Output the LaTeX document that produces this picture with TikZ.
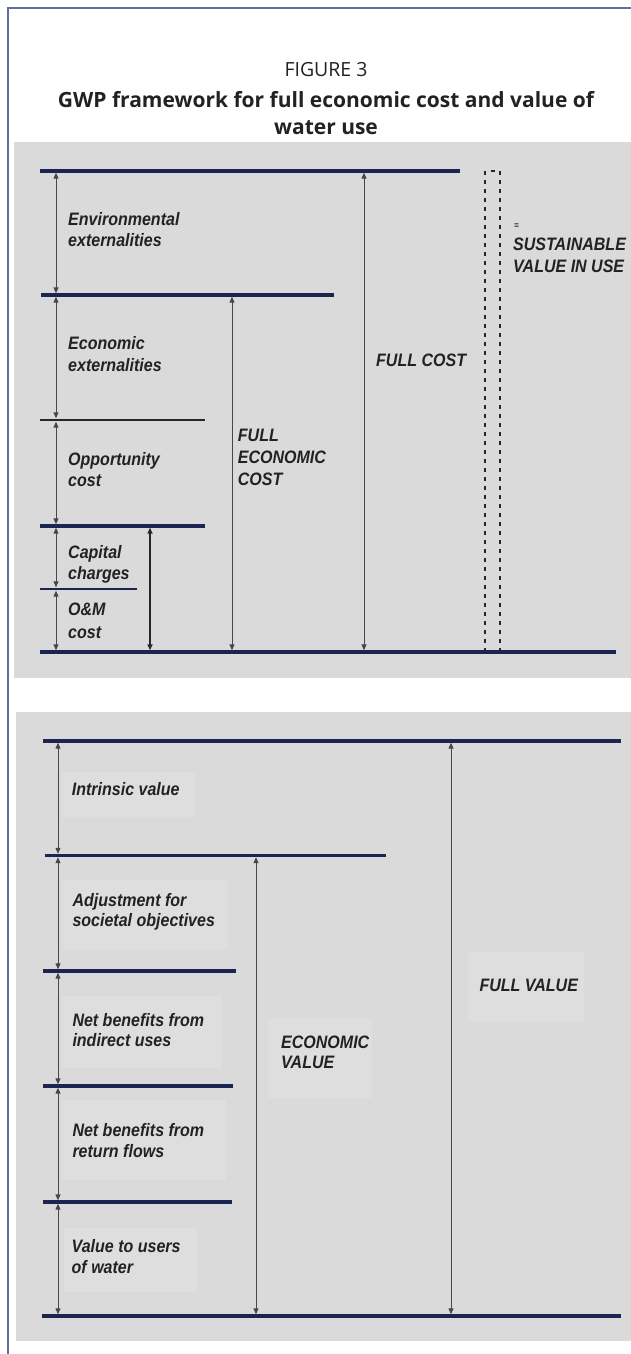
\documentclass[tikz,border=0pt]{standalone}
\usepackage{fontspec}
\setmainfont{Liberation Sans}
\newfontfamily\labfont{Liberation Sans}[FakeStretch=0.89]
\newfontfamily\titlefont{Open Sans}
\usetikzlibrary{arrows.meta}
\definecolor{panel}{HTML}{DADADA}
\definecolor{boxfill}{HTML}{DEDEDE}
\definecolor{navy}{HTML}{1C2550}
\definecolor{framec}{HTML}{6070A3}
\definecolor{arr}{HTML}{474747}
\definecolor{txt}{HTML}{222222}
\begin{document}
\begin{tikzpicture}[x=1pt,y=-1pt,
  level/.style={draw=navy,line width=3.4pt},
  thinlevel/.style={draw=black!85,line width=1.4pt},
  midlevel/.style={draw=navy,line width=1.8pt},
  dim/.style={draw=arr,line width=1pt,
    {Triangle[length=6pt,width=5pt]}-{Triangle[length=6pt,width=5pt]},
    shorten >=1.7pt,shorten <=1.7pt},
  boldim/.style={dim,draw=black!85,line width=1.5pt},
  lab/.style={inner sep=0pt,anchor=base west,text=txt,
    font=\labfont\bfseries\itshape\fontsize{18}{21}\selectfont},
  dashline/.style={draw=black!85,line width=1.3pt,dash pattern=on 4pt off 5pt},
  lbox/.style={fill=boxfill,draw=none}
]
\useasboundingbox (0,0) rectangle (631,1354);
% frame
\coordinate (f1) at (8,1354);
\coordinate (f2) at (8,8);
\coordinate (f3) at (631,8);
\draw[framec,line width=2.2pt] (f1) -- (f2) -- (f3);
% title
\node[font=\titlefont\fontsize{19.5}{24}\selectfont,anchor=base,text=txt] (t0) at (326,76) {FIGURE 3};
\node[font=\titlefont\bfseries\fontsize{21}{26}\selectfont,anchor=base,text=txt] (t1) at (326,107) {GWP framework for full economic cost and value of};
\node[font=\titlefont\bfseries\fontsize{21}{26}\selectfont,anchor=base,text=txt] (t2) at (326,134) {water use};

% ---------------- top panel
\fill[panel] (14,142) rectangle (631,678);
\coordinate (L1a) at (40,171);  \coordinate (L1b) at (460,171);
\coordinate (L2a) at (41,295);  \coordinate (L2b) at (334,295);
\coordinate (L3a) at (40,420);  \coordinate (L3b) at (205,420);
\coordinate (L4a) at (40,526);  \coordinate (L4b) at (205,526);
\coordinate (L5a) at (40,589);  \coordinate (L5b) at (137,589);
\coordinate (L6a) at (40,652);  \coordinate (L6b) at (616,652);
% dashed sustainable column
\coordinate (d1t) at (485,171); \coordinate (d1b) at (485,652);
\coordinate (d2t) at (500,171); \coordinate (d2b) at (500,652);
\coordinate (d3a) at (491,171); \coordinate (d3b) at (495,171);
\draw[dashline] (d1t) -- (d1b);
\draw[dashline] (d2t) -- (d2b);
\draw[draw=black!85,line width=1.3pt] (d3a) -- (d3b);
\draw[level] (L1a) -- (L1b);
\draw[level] (L2a) -- (L2b);
\draw[thinlevel] (L3a) -- (L3b);
\draw[level] (L4a) -- (L4b);
\draw[midlevel] (L5a) -- (L5b);
\draw[level] (L6a) -- (L6b);
% arrow anchor points
\coordinate (a1) at (56,171); \coordinate (a2) at (56,295); \coordinate (a3) at (56,420);
\coordinate (a4) at (56,526); \coordinate (a5) at (56,589); \coordinate (a6) at (56,652);
\draw[dim] (a1) -- (a2);
\draw[dim] (a2) -- (a3);
\draw[dim] (a3) -- (a4);
\draw[dim] (a4) -- (a5);
\draw[dim] (a5) -- (a6);
\coordinate (c1) at (150,526); \coordinate (c2) at (150,652);
\draw[boldim] (c1) -- (c2);
\coordinate (e1) at (232,295); \coordinate (e2) at (232,652);
\draw[dim] (e1) -- (e2);
\coordinate (g1) at (364,171); \coordinate (g2) at (364,652);
\draw[dim] (g1) -- (g2);
% labels top
\node[lab] (env1) at (68,225.7) {Environmental};
\node[lab] (env2) at (68,246.7) {externalities};
\node[lab] (eco1) at (68,349.3) {Economic};
\node[lab] (eco2) at (68,371) {externalities};
\node[lab] (opp1) at (68,465) {Opportunity};
\node[lab] (opp2) at (68,486) {cost};
\node[lab] (cap1) at (68,558.3) {Capital};
\node[lab] (cap2) at (68,579) {charges};
\node[lab] (om1) at (68,615) {O\&M};
\node[lab] (om2) at (68,638) {cost};
\node[lab] (fec1) at (237.7,441.7) {FULL};
\node[lab] (fec2) at (237.7,463.3) {ECONOMIC};
\node[lab] (fec3) at (237.7,485) {COST};
\node[lab] (fc) at (376,366.7) {FULL COST};
\node[lab,font=\labfont\bfseries\itshape\fontsize{9}{10}\selectfont] (eq) at (514,228) {=};
\node[lab] (sv1) at (513,250.7) {SUSTAINABLE};
\node[lab] (sv2) at (513,272.7) {VALUE IN USE};

% ---------------- bottom panel
\fill[panel] (16,712) rectangle (631,1341);
\fill[lbox] (62,772) rectangle (195,817);
\fill[lbox] (62,880) rectangle (228,950);
\fill[lbox] (62,996) rectangle (222,1068);
\fill[lbox] (62,1100) rectangle (226,1180);
\fill[lbox] (64,1228) rectangle (197,1292);
\fill[lbox] (268,1018) rectangle (372,1098);
\fill[lbox] (468,952) rectangle (584,1022);
\coordinate (B1a) at (43,741);   \coordinate (B1b) at (621,741);
\coordinate (B2a) at (45,855.5); \coordinate (B2b) at (386,855.5);
\coordinate (B3a) at (43,971);   \coordinate (B3b) at (236,971);
\coordinate (B4a) at (43,1086);  \coordinate (B4b) at (233,1086);
\coordinate (B5a) at (43,1202);  \coordinate (B5b) at (232,1202);
\coordinate (B6a) at (42,1316);  \coordinate (B6b) at (621,1316);
\draw[level] (B1a) -- (B1b);
\draw[level] (B2a) -- (B2b);
\draw[level] (B3a) -- (B3b);
\draw[level] (B4a) -- (B4b);
\draw[level] (B5a) -- (B5b);
\draw[level] (B6a) -- (B6b);
\coordinate (b1) at (58,741); \coordinate (b2) at (58,855.5); \coordinate (b3) at (58,971);
\coordinate (b4) at (58,1086); \coordinate (b5) at (58,1202); \coordinate (b6) at (58,1316);
\draw[dim] (b1) -- (b2);
\draw[dim] (b2) -- (b3);
\draw[dim] (b3) -- (b4);
\draw[dim] (b4) -- (b5);
\draw[dim] (b5) -- (b6);
\coordinate (ev1) at (256,855.5); \coordinate (ev2) at (256,1316);
\draw[dim] (ev1) -- (ev2);
\coordinate (fv1) at (451,741); \coordinate (fv2) at (451,1316);
\draw[dim] (fv1) -- (fv2);
% labels bottom
\node[lab] (iv) at (71.7,795.7) {Intrinsic value};
\node[lab] (adj1) at (72.3,906) {Adjustment for};
\node[lab] (adj2) at (72.3,926.5) {societal objectives};
\node[lab] (ind1) at (72.3,1026) {Net benefits from};
\node[lab] (ind2) at (72.3,1046.7) {indirect uses};
\node[lab] (ret1) at (72.3,1136.7) {Net benefits from};
\node[lab] (ret2) at (72.3,1157.3) {return flows};
\node[lab] (vu1) at (71.5,1252) {Value to users};
\node[lab] (vu2) at (71.5,1273) {of water};
\node[lab] (evl1) at (281,1048.3) {ECONOMIC};
\node[lab] (evl2) at (281,1068.3) {VALUE};
\node[lab] (fvl) at (479.3,991.7) {FULL VALUE};
\end{tikzpicture}
\end{document}
